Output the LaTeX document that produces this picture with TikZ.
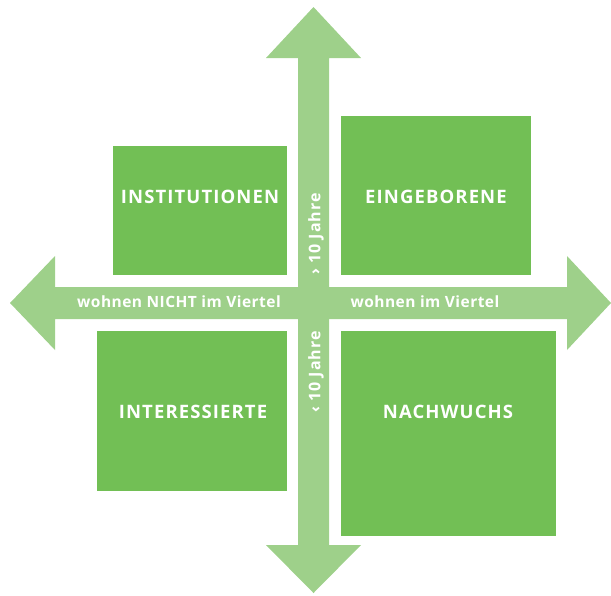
\documentclass[tikz,border=0pt]{standalone}
\usepackage{fontspec}
\setmainfont{Open Sans}
\newfontfamily\quadfont[LetterSpace=6]{Open Sans}
\newfontfamily\axisfont[LetterSpace=3]{Open Sans}
\newfontfamily\yearfont[LetterSpace=6]{Open Sans}
\definecolor{boxgreen}{RGB}{114,191,85}
\definecolor{axisgreen}{RGB}{158,208,138}
\begin{document}
\begin{tikzpicture}[x=1pt,y=-1pt,
  quadrant/.style={fill=boxgreen,draw=none},
  quadlabel/.style={text=white,font=\quadfont\bfseries\fontsize{18.5}{20}\selectfont},
  axislabel/.style={text=white,font=\axisfont\bfseries\fontsize{15.5}{17}\selectfont,inner sep=0pt},
  yearlabel/.style={text=white,font=\yearfont\bfseries\fontsize{16}{18}\selectfont,inner sep=0pt,rotate=90},
  axisfill/.style={fill=axisgreen,draw=none}]
\useasboundingbox (0,0) rectangle (611,595);

% horizontal double arrow
\fill[axisfill] (10,303) -- (55,256) -- (55,287) -- (567,287) -- (567,256)
  -- (611,303) -- (567,350) -- (567,319) -- (55,319) -- (55,350) -- cycle;
% vertical double arrow
\fill[axisfill] (313.5,7) -- (361,58) -- (329,58) -- (329,545) -- (361,545)
  -- (313.5,593) -- (266,545) -- (298,545) -- (298,58) -- (266,58) -- cycle;

% quadrants
\fill[quadrant] (113,146) rectangle (287,275);
\fill[quadrant] (341,116) rectangle (531,275);
\fill[quadrant] (97,331) rectangle (287,491);
\fill[quadrant] (341,331) rectangle (556,536);

\node[quadlabel] (inst) at (200,197) {INSTITUTIONEN};
\node[quadlabel] (eing) at (436,197) {EINGEBORENE};
\node[quadlabel] (inter) at (193,412) {INTERESSIERTE};
\node[quadlabel] (nach) at (448,412) {NACHWUCHS};

% axis labels
\node[axislabel] (left) at (179,302) {wohnen NICHT im Viertel};
\node[axislabel] (right) at (425,302) {wohnen im Viertel};
\node[yearlabel] (older) at (316,234) {› 10 Jahre};
\node[yearlabel] (younger) at (316,372) {‹ 10 Jahre};
\end{tikzpicture}
\end{document}
